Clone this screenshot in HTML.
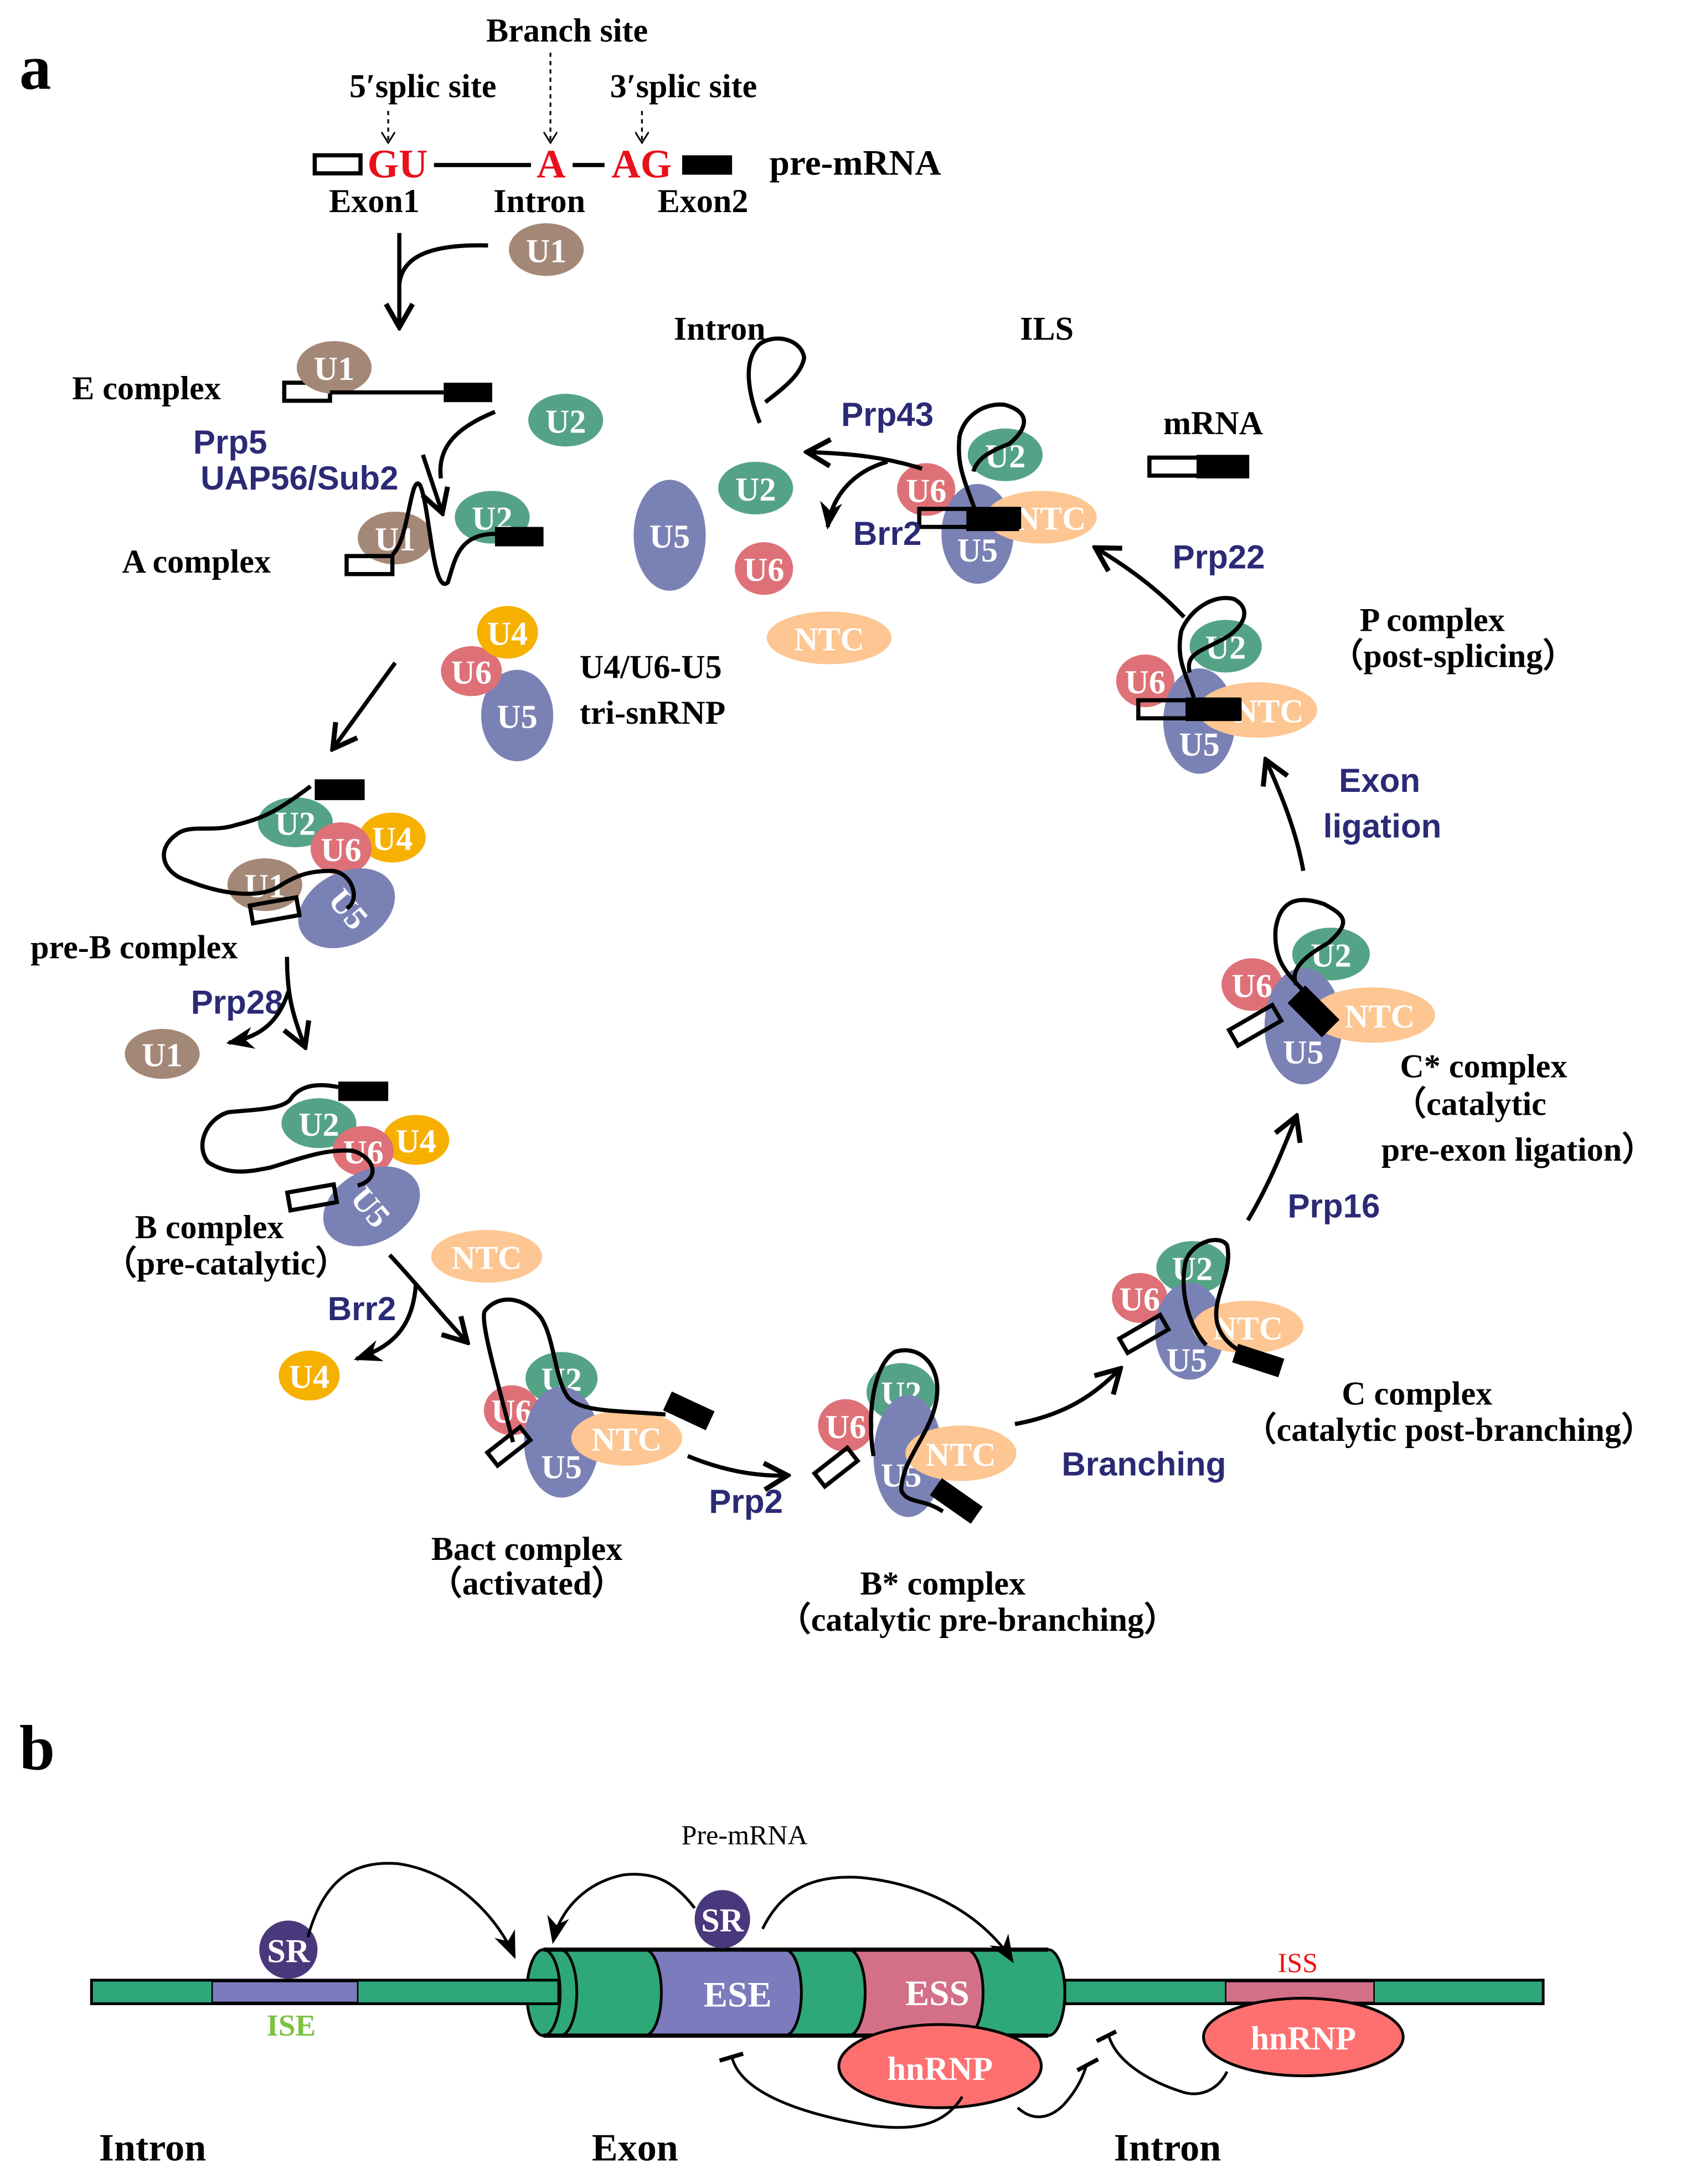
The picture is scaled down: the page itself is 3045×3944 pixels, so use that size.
<!DOCTYPE html>
<html><head><meta charset="utf-8"><style>
html,body{margin:0;padding:0;background:#fff;}
svg{display:block;}
.t{font-family:"Liberation Serif",serif;font-weight:bold;fill:#000;}
.w{font-family:"Liberation Serif",serif;font-weight:bold;fill:#fff;text-anchor:middle;}
.b{font-family:"Liberation Sans",sans-serif;font-weight:bold;fill:#2b2a75;}
.ln{fill:none;stroke:#000;stroke-width:3;}
.ar{fill:none;stroke:#000;stroke-width:3;}
</style></head><body>
<svg width="3045" height="3944" viewBox="0 0 1216 1575" preserveAspectRatio="none" xmlns="http://www.w3.org/2000/svg">
<defs>
<marker id="m" markerWidth="10" markerHeight="10" refX="8" refY="5" orient="auto" markerUnits="userSpaceOnUse"><path d="M0,0 L8,5 L0,10" fill="none" stroke="#000" stroke-width="1.2"/></marker>
<marker id="ch" viewBox="0 0 20 20" markerWidth="24" markerHeight="24" refX="18" refY="10" orient="auto" markerUnits="userSpaceOnUse"><path d="M4,2 L18,10 L4,18" fill="none" stroke="#000" stroke-width="3"/></marker>
<marker id="ah" viewBox="0 0 20 20" markerWidth="20" markerHeight="20" refX="18" refY="10" orient="auto" markerUnits="userSpaceOnUse"><path d="M0,2 L20,10 L0,18 L6,10z" fill="#000"/></marker>
</defs>

<!-- ===== Panel a ===== -->
<text class="t" x="14" y="64" font-size="46">a</text>
<text class="t" x="409" y="30" font-size="24" text-anchor="middle">Branch site</text>
<text class="t" x="305" y="70" font-size="24" text-anchor="middle">5′splic site</text>
<text class="t" x="493" y="70" font-size="24" text-anchor="middle">3′splic site</text>
<line x1="280" y1="80" x2="280" y2="103" stroke="#000" stroke-width="1.3" stroke-dasharray="3,3" marker-end="url(#m)"/>
<line x1="397" y1="38" x2="397" y2="103" stroke="#000" stroke-width="1.3" stroke-dasharray="3,3" marker-end="url(#m)"/>
<line x1="463" y1="80" x2="463" y2="103" stroke="#000" stroke-width="1.3" stroke-dasharray="3,3" marker-end="url(#m)"/>
<rect x="227" y="112" width="33" height="13" fill="none" stroke="#000" stroke-width="3"/>
<text x="265" y="128" font-size="29" font-family="Liberation Serif,serif" font-weight="bold" fill="#e8101c">GU</text>
<line x1="313" y1="119" x2="383" y2="119" stroke="#000" stroke-width="3"/>
<text x="387" y="128" font-size="29" font-family="Liberation Serif,serif" font-weight="bold" fill="#e8101c">A</text>
<line x1="413" y1="119" x2="436" y2="119" stroke="#000" stroke-width="3"/>
<text x="441" y="128" font-size="29" font-family="Liberation Serif,serif" font-weight="bold" fill="#e8101c">AG</text>
<rect x="492" y="112" width="36" height="14" fill="#000"/>
<text class="t" x="555" y="126" font-size="26">pre-mRNA</text>
<text class="t" x="270" y="153" font-size="24" text-anchor="middle">Exon1</text>
<text class="t" x="389" y="153" font-size="24" text-anchor="middle">Intron</text>
<text class="t" x="507" y="153" font-size="24" text-anchor="middle">Exon2</text>

<line x1="288" y1="168" x2="288" y2="236" class="ar" marker-end="url(#ch)"/>
<path d="M352,177 C310,176 290,185 288,205" class="ar"/>
<ellipse cx="394" cy="180" rx="27" ry="19" fill="#a48877"/><text class="w" x="394" y="189" font-size="24">U1</text>

<text class="t" x="52" y="288" font-size="24">E complex</text>
<rect x="205" y="276" width="33" height="13" fill="none" stroke="#000" stroke-width="3"/>
<ellipse cx="241" cy="265" rx="27" ry="19" fill="#a48877"/><text class="w" x="241" y="274" font-size="24">U1</text>
<line x1="238" y1="283" x2="320" y2="283" stroke="#000" stroke-width="3"/>
<rect x="320" y="276" width="35" height="14" fill="#000"/>
<ellipse cx="408" cy="303" rx="27" ry="19" fill="#55a387"/><text class="w" x="408" y="312" font-size="24">U2</text>
<path d="M357,297 C330,308 315,322 318,345" class="ar"/>
<line x1="305" y1="328" x2="319" y2="370" class="ar" marker-end="url(#ch)"/>
<text class="b" x="166" y="327" font-size="24" text-anchor="middle">Prp5</text>
<text class="b" x="216" y="353" font-size="24" text-anchor="middle">UAP56/Sub2</text>

<text class="t" x="88" y="413" font-size="24">A complex</text>
<ellipse cx="285" cy="388" rx="27" ry="19" fill="#a48877"/><text class="w" x="285" y="397" font-size="24">U1</text>
<ellipse cx="355" cy="373" rx="27" ry="19" fill="#55a387"/><text class="w" x="355" y="382" font-size="24">U2</text>
<rect x="250" y="401" width="33" height="13" fill="none" stroke="#000" stroke-width="3"/>
<path d="M283,400 C295,390 296,340 303,350 C310,365 312,430 323,420 C328,405 330,385 357,385" class="ln"/>
<rect x="357" y="380" width="35" height="14" fill="#000"/>

<!-- tri-snRNP -->
<ellipse cx="373" cy="516" rx="26" ry="33" fill="#7a82b5"/><text class="w" x="373" y="525" font-size="24">U5</text>
<ellipse cx="340" cy="484" rx="22" ry="18" fill="#de7178"/><text class="w" x="340" y="493" font-size="24">U6</text>
<ellipse cx="366" cy="456" rx="22" ry="19" fill="#f6b000"/><text class="w" x="366" y="465" font-size="24">U4</text>
<text class="t" x="418" y="489" font-size="24">U4/U6-U5</text>
<text class="t" x="418" y="522" font-size="24">tri-snRNP</text>
<line x1="285" y1="478" x2="240" y2="540" class="ar" marker-end="url(#ch)"/>

<!-- pre-B -->
<rect x="227" y="562" width="36" height="15" fill="#000"/>
<ellipse cx="213" cy="593" rx="27" ry="18" fill="#55a387"/><text class="w" x="213" y="602" font-size="24">U2</text>
<ellipse cx="283" cy="604" rx="24" ry="18" fill="#f6b000"/><text class="w" x="283" y="613" font-size="24">U4</text>
<ellipse cx="246" cy="612" rx="22" ry="19" fill="#de7178"/><text class="w" x="246" y="621" font-size="24">U6</text>
<ellipse cx="191" cy="638" rx="27" ry="19" fill="#a48877"/><text class="w" x="191" y="647" font-size="24">U1</text>
<ellipse cx="250" cy="655" rx="37" ry="26" fill="#7a82b5" transform="rotate(-28 250 655)"/><text class="w" x="252" y="664" font-size="24" transform="rotate(50 252 655)">U5</text>
<path d="M224,567 C200,585 190,590 170,595 C155,600 140,595 130,600 C110,612 118,630 135,635 C160,645 185,648 200,640 C215,630 225,628 240,628 C255,630 260,650 250,655" class="ln"/>
<rect x="181" y="650" width="34" height="13" fill="none" stroke="#000" stroke-width="3" transform="rotate(-10 198 656)"/>
<text class="t" x="22" y="691" font-size="24">pre-B complex</text>
<text class="b" x="171" y="731" font-size="24" text-anchor="middle">Prp28</text>
<path d="M207,690 C207,715 210,730 220,755" class="ar" marker-end="url(#ch)"/>
<path d="M208,715 C200,740 185,748 165,752" class="ar" marker-end="url(#ah)"/>
<ellipse cx="117" cy="760" rx="27" ry="18" fill="#a48877"/><text class="w" x="117" y="769" font-size="24">U1</text>

<!-- B complex -->
<rect x="244" y="780" width="36" height="14" fill="#000"/>
<ellipse cx="230" cy="810" rx="27" ry="18" fill="#55a387"/><text class="w" x="230" y="819" font-size="24">U2</text>
<ellipse cx="300" cy="822" rx="24" ry="18" fill="#f6b000"/><text class="w" x="300" y="831" font-size="24">U4</text>
<ellipse cx="262" cy="830" rx="22" ry="18" fill="#de7178"/><text class="w" x="262" y="839" font-size="24">U6</text>
<ellipse cx="268" cy="870" rx="37" ry="26" fill="#7a82b5" transform="rotate(-28 268 870)"/><text class="w" x="268" y="879" font-size="24" transform="rotate(50 268 870)">U5</text>
<path d="M244,784 C225,780 215,785 210,792 C205,800 185,800 165,802 C150,806 140,825 150,838 C165,848 180,845 195,842 C215,836 235,828 255,830 C270,835 275,850 258,855" class="ln"/>
<rect x="208" y="857" width="34" height="13" fill="none" stroke="#000" stroke-width="3" transform="rotate(-10 225 863)"/>
<text class="t" x="151" y="893" font-size="24" text-anchor="middle">B complex</text>
<text class="t" x="163" y="919" font-size="24" text-anchor="middle">（pre-catalytic）</text>
<ellipse cx="351" cy="906" rx="40" ry="19" fill="#fdc692"/><text class="w" x="351" y="915" font-size="24">NTC</text>
<text class="b" x="261" y="952" font-size="24" text-anchor="middle">Brr2</text>
<path d="M281,905 C300,925 318,948 337,968" class="ar" marker-end="url(#ch)"/>
<path d="M300,925 C298,960 280,972 257,980" class="ar" marker-end="url(#ah)"/>
<ellipse cx="223" cy="992" rx="22" ry="18" fill="#f6b000"/><text class="w" x="223" y="1001" font-size="24">U4</text>

<!-- Bact -->
<ellipse cx="405" cy="994" rx="26" ry="19" fill="#55a387"/><text class="w" x="405" y="1003" font-size="24">U2</text>
<ellipse cx="369" cy="1017" rx="20" ry="18" fill="#de7178"/><text class="w" x="369" y="1026" font-size="24">U6</text>
<ellipse cx="405" cy="1040" rx="27" ry="40" fill="#7a82b5"/><text class="w" x="405" y="1066" font-size="24">U5</text>
<ellipse cx="452" cy="1037" rx="40" ry="20" fill="#fdc692"/><text class="w" x="452" y="1046" font-size="24">NTC</text>
<path d="M370,1040 C360,1000 345,950 350,945 C360,933 378,935 390,950 C400,965 400,995 410,1008 C420,1018 440,1017 480,1020" class="ln"/>
<rect x="480" y="1010" width="34" height="15" fill="#000" transform="rotate(25 497 1017)"/>
<rect x="352" y="1037" width="30" height="12" fill="none" stroke="#000" stroke-width="3" transform="rotate(-38 367 1043)"/>
<text class="t" x="380" y="1125" font-size="24" text-anchor="middle">Bact complex</text>
<text class="t" x="380" y="1150" font-size="24" text-anchor="middle">（activated）</text>
<path d="M496,1050 C520,1060 545,1065 568,1064" class="ar" marker-end="url(#ch)"/>
<text class="b" x="538" y="1091" font-size="24" text-anchor="middle">Prp2</text>

<!-- B* -->
<ellipse cx="650" cy="1004" rx="25" ry="21" fill="#55a387"/><text class="w" x="650" y="1013" font-size="24">U2</text>
<ellipse cx="610" cy="1028" rx="20" ry="19" fill="#de7178"/><text class="w" x="610" y="1037" font-size="24">U6</text>
<ellipse cx="655" cy="1050" rx="25" ry="44" fill="#7a82b5"/><text class="w" x="650" y="1072" font-size="24">U5</text>
<ellipse cx="693" cy="1048" rx="40" ry="20" fill="#fdc692"/><text class="w" x="693" y="1057" font-size="24">NTC</text>
<path d="M630,1050 C625,1020 630,985 645,975 C660,970 675,980 676,1000 C677,1030 650,1050 650,1075 C655,1085 665,1080 680,1090" class="ln"/>
<rect x="672" y="1075" width="36" height="15" fill="#000" transform="rotate(35 690 1082)"/>
<rect x="588" y="1052" width="30" height="12" fill="none" stroke="#000" stroke-width="3" transform="rotate(-38 603 1058)"/>
<text class="t" x="680" y="1150" font-size="24" text-anchor="middle">B* complex</text>
<text class="t" x="705" y="1176" font-size="24" text-anchor="middle">（catalytic pre-branching）</text>
<path d="M732,1027 C770,1020 790,1005 808,987" class="ar" marker-end="url(#ch)"/>
<text class="b" x="825" y="1064" font-size="24" text-anchor="middle">Branching</text>

<!-- C -->
<ellipse cx="860" cy="914" rx="26" ry="19" fill="#55a387"/><text class="w" x="860" y="923" font-size="24">U2</text>
<ellipse cx="822" cy="936" rx="20" ry="18" fill="#de7178"/><text class="w" x="822" y="945" font-size="24">U6</text>
<ellipse cx="858" cy="960" rx="25" ry="35" fill="#7a82b5"/><text class="w" x="856" y="989" font-size="24">U5</text>
<ellipse cx="900" cy="957" rx="40" ry="19" fill="#fdc692"/><text class="w" x="900" y="966" font-size="24">NTC</text>
<path d="M870,970 C860,960 850,935 855,910 C860,895 880,890 885,898 C890,920 870,940 880,960 C885,970 895,975 905,980" class="ln"/>
<rect x="890" y="974" width="35" height="14" fill="#000" transform="rotate(18 907 981)"/>
<rect x="808" y="956" width="34" height="12" fill="none" stroke="#000" stroke-width="3" transform="rotate(-30 825 962)"/>
<text class="t" x="1022" y="1013" font-size="24" text-anchor="middle">C complex</text>
<text class="t" x="1045" y="1039" font-size="24" text-anchor="middle">（catalytic post-branching）</text>
<path d="M900,880 C915,855 925,830 935,805" class="ar" marker-end="url(#ch)"/>
<text class="b" x="962" y="878" font-size="24" text-anchor="middle">Prp16</text>

<!-- C* -->
<ellipse cx="960" cy="688" rx="28" ry="19" fill="#55a387"/><text class="w" x="960" y="697" font-size="24">U2</text>
<ellipse cx="903" cy="710" rx="22" ry="19" fill="#de7178"/><text class="w" x="903" y="719" font-size="24">U6</text>
<ellipse cx="940" cy="740" rx="28" ry="42" fill="#7a82b5"/><text class="w" x="940" y="767" font-size="24">U5</text>
<ellipse cx="990" cy="732" rx="45" ry="20" fill="#fdc692"/><text class="w" x="995" y="741" font-size="24">NTC</text>
<path d="M948,725 C935,705 918,700 920,670 C923,650 935,645 955,652 C970,660 975,665 958,680 C940,690 930,700 935,710" class="ln"/>
<rect x="930" y="720" width="35" height="18" fill="#000" transform="rotate(45 947 729)"/>
<rect x="887" y="733" width="36" height="13" fill="none" stroke="#000" stroke-width="3" transform="rotate(-30 905 739)"/>
<text class="t" x="1070" y="777" font-size="24" text-anchor="middle">C* complex</text>
<text class="t" x="1060" y="804" font-size="24" text-anchor="middle">（catalytic</text>
<text class="t" x="1095" y="837" font-size="24" text-anchor="middle">pre-exon ligation）</text>
<path d="M940,628 C935,600 925,575 913,548" class="ar" marker-end="url(#ch)"/>
<text class="b" x="995" y="571" font-size="24" text-anchor="middle">Exon</text>
<text class="b" x="997" y="604" font-size="24" text-anchor="middle">ligation</text>

<!-- P complex -->
<ellipse cx="884" cy="466" rx="26" ry="19" fill="#55a387"/><text class="w" x="884" y="475" font-size="24">U2</text>
<ellipse cx="826" cy="491" rx="21" ry="19" fill="#de7178"/><text class="w" x="826" y="500" font-size="24">U6</text>
<ellipse cx="865" cy="520" rx="26" ry="38" fill="#7a82b5"/><text class="w" x="865" y="545" font-size="24">U5</text>
<ellipse cx="907" cy="512" rx="43" ry="20" fill="#fdc692"/><text class="w" x="915" y="521" font-size="24">NTC</text>
<path d="M861,503 C855,485 848,475 852,455 C858,440 875,428 890,432 C905,440 895,455 880,462 C865,470 855,472 858,485" class="ln"/>
<rect x="821" y="505" width="73" height="13" fill="none" stroke="#000" stroke-width="3"/>
<rect x="855" y="503" width="40" height="17" fill="#000"/>
<text class="t" x="1033" y="455" font-size="24" text-anchor="middle">P complex</text>
<text class="t" x="1048" y="481" font-size="24" text-anchor="middle">（post-splicing）</text>
<path d="M854,445 C835,425 815,410 790,395" class="ar" marker-end="url(#ch)"/>
<text class="b" x="879" y="410" font-size="24" text-anchor="middle">Prp22</text>

<!-- mRNA -->
<text class="t" x="875" y="313" font-size="24" text-anchor="middle">mRNA</text>
<rect x="829" y="330" width="70" height="13" fill="none" stroke="#000" stroke-width="3"/>
<rect x="863" y="328" width="38" height="17" fill="#000"/>

<!-- ILS -->
<text class="t" x="755" y="245" font-size="24" text-anchor="middle">ILS</text>
<ellipse cx="725" cy="328" rx="27" ry="19" fill="#55a387"/><text class="w" x="725" y="337" font-size="24">U2</text>
<ellipse cx="668" cy="353" rx="21" ry="19" fill="#de7178"/><text class="w" x="668" y="362" font-size="24">U6</text>
<ellipse cx="705" cy="385" rx="26" ry="36" fill="#7a82b5"/><text class="w" x="705" y="405" font-size="24">U5</text>
<ellipse cx="751" cy="373" rx="40" ry="19" fill="#fdc692"/><text class="w" x="758" y="382" font-size="24">NTC</text>
<path d="M703,367 C695,345 690,335 692,315 C695,300 710,290 725,292 C745,298 740,310 728,320 C715,325 705,330 702,340" class="ln"/>
<rect x="663" y="367" width="72" height="13" fill="none" stroke="#000" stroke-width="3"/>
<rect x="697" y="366" width="38" height="17" fill="#000"/>
<text class="b" x="640" y="307" font-size="24" text-anchor="middle">Prp43</text>
<text class="b" x="640" y="393" font-size="24" text-anchor="middle">Brr2</text>
<path d="M665,338 C640,330 615,327 582,326" class="ar" marker-end="url(#ch)"/>
<path d="M640,333 C615,340 600,358 597,380" class="ar" marker-end="url(#ah)"/>

<!-- released intron -->
<text class="t" x="519" y="245" font-size="24" text-anchor="middle">Intron</text>
<path d="M548,305 C540,285 535,260 548,248 C560,240 578,245 580,258 C578,270 565,280 552,290" class="ln"/>
<ellipse cx="483" cy="386" rx="26" ry="40" fill="#7a82b5"/><text class="w" x="483" y="395" font-size="24">U5</text>
<ellipse cx="545" cy="352" rx="27" ry="19" fill="#55a387"/><text class="w" x="545" y="361" font-size="24">U2</text>
<ellipse cx="551" cy="410" rx="21" ry="19" fill="#de7178"/><text class="w" x="551" y="419" font-size="24">U6</text>
<ellipse cx="598" cy="460" rx="45" ry="19" fill="#fdc692"/><text class="w" x="598" y="469" font-size="24">NTC</text>

<!-- ===== Panel b ===== -->
<text class="t" x="14" y="1276" font-size="46">b</text>
<text x="537" y="1330" font-size="20" font-family="Liberation Serif,serif" text-anchor="middle" fill="#000">Pre-mRNA</text>
<!-- cylinder -->
<g stroke="#000" stroke-width="2">
<path d="M392,1406 L756,1406 A12,31 0 0 1 756,1468 L392,1468 z" fill="#2ea879"/>
<ellipse cx="392" cy="1437" rx="12" ry="31" fill="#2ea879"/>
<path d="M404,1406 A12,31 0 0 1 404,1468" fill="none"/>
<path d="M465,1406 L566,1406 A12,31 0 0 1 566,1468 L465,1468 A12,31 0 0 0 465,1406z" fill="#7b7bbd"/>
<path d="M612,1406 L697,1406 A12,31 0 0 1 697,1468 L612,1468 A12,31 0 0 0 612,1406z" fill="#d37088"/>
</g>
<line x1="392" y1="1406" x2="756" y2="1406" stroke="#000" stroke-width="3"/>
<line x1="392" y1="1468" x2="756" y2="1468" stroke="#000" stroke-width="3"/>
<!-- left bar -->
<rect x="66" y="1428" width="337" height="17" fill="#2ea879" stroke="#000" stroke-width="2"/>
<rect x="153" y="1429" width="105" height="15" fill="#7b7bbd" stroke="#000" stroke-width="1"/>
<!-- right bar -->
<rect x="768" y="1428" width="345" height="17" fill="#2ea879" stroke="#000" stroke-width="2"/>
<rect x="884" y="1429" width="107" height="15" fill="#d37088" stroke="#000" stroke-width="1"/>
<text class="w" x="532" y="1447" font-size="26" font-weight="normal">ESE</text>
<text class="w" x="676" y="1446" font-size="26" font-weight="normal">ESS</text>
<text x="210" y="1468" font-size="22" font-family="Liberation Serif,serif" font-weight="bold" fill="#7cc242" text-anchor="middle">ISE</text>
<text x="936" y="1422" font-size="20" font-family="Liberation Serif,serif" fill="#f01010" text-anchor="middle">ISS</text>
<ellipse cx="208" cy="1406" rx="21" ry="21" fill="#4a387c"/><text class="w" x="208" y="1415" font-size="24" font-weight="normal">SR</text>
<ellipse cx="521" cy="1384" rx="20" ry="21" fill="#4a387c"/><text class="w" x="521" y="1393" font-size="24" font-weight="normal">SR</text>
<ellipse cx="678" cy="1490" rx="73" ry="30" fill="#fe7070" stroke="#000" stroke-width="2"/><text class="w" x="678" y="1500" font-size="24" font-weight="normal">hnRNP</text>
<ellipse cx="940" cy="1469" rx="72" ry="28" fill="#fe7070" stroke="#000" stroke-width="2"/><text class="w" x="940" y="1478" font-size="24" font-weight="normal">hnRNP</text>
<g fill="none" stroke="#000" stroke-width="2">
<path d="M222,1397 C235,1350 260,1342 287,1344 C330,1350 360,1385 371,1411" marker-end="url(#ah)"/>
<path d="M501,1376 C485,1355 470,1350 450,1352 C420,1358 403,1380 399,1400" marker-end="url(#ah)"/>
<path d="M550,1391 C565,1360 590,1352 621,1354 C680,1360 715,1390 730,1414" marker-end="url(#ah)"/>
<path d="M694,1512 C680,1535 655,1536 629,1533 C580,1525 535,1510 528,1484"/>
<path d="M519,1486 L536,1481" stroke-width="3"/>
<path d="M734,1520 C745,1530 757,1528 767,1518 C778,1506 782,1495 784,1488"/>
<path d="M777,1493 L792,1485" stroke-width="3"/>
<path d="M885,1494 C878,1508 865,1512 854,1509 C825,1500 805,1485 800,1469"/>
<path d="M791,1472 L805,1465" stroke-width="3"/>
</g>
<text class="t" x="110" y="1558" font-size="28" text-anchor="middle">Intron</text>
<text class="t" x="458" y="1558" font-size="28" text-anchor="middle">Exon</text>
<text class="t" x="842" y="1558" font-size="28" text-anchor="middle">Intron</text>
</svg>
</body></html>
